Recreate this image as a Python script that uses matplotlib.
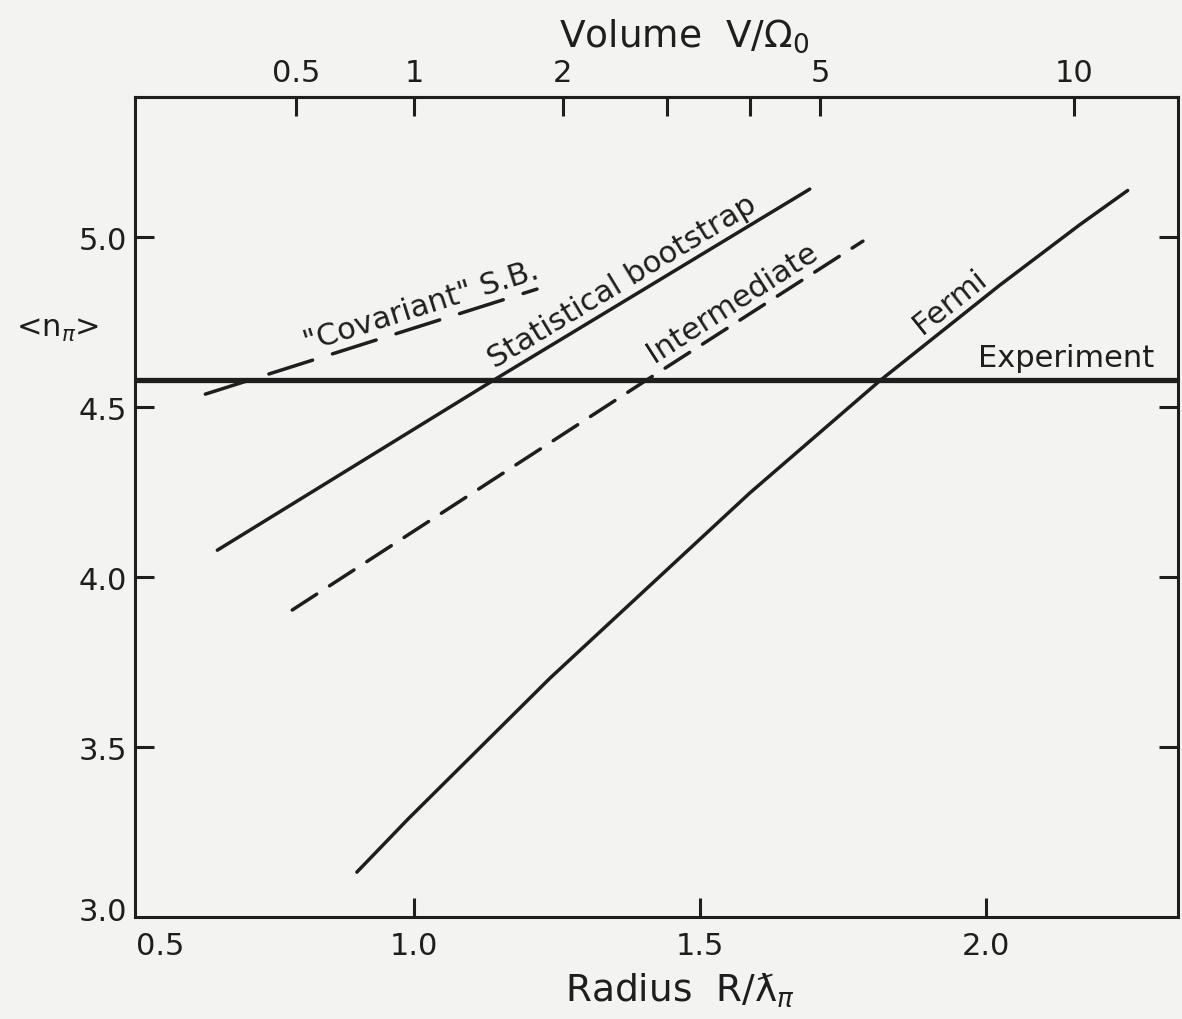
import numpy as np
import matplotlib
matplotlib.use('Agg')
import matplotlib.pyplot as plt

# values: radius R/lambda_pi  ->  <n_pi>
fermi_r = [0.900, 0.990, 1.238, 1.587, 1.815, 2.024, 2.164, 2.248]
fermi_n = [3.132, 3.289, 3.703, 4.247, 4.578, 4.858, 5.036, 5.137]

stat_r = [0.656, 1.142, 1.692]
stat_n = [4.079, 4.582, 5.141]

inter_r = [0.787, 1.409, 1.785]
inter_n = [3.903, 4.582, 4.988]

cov_r = [0.635, 1.215]
cov_n = [4.538, 4.847]

experiment_n = 4.58

x_ticks = [1.0, 1.5, 2.0]
x_labels = ['1.0', '1.5', '2.0']
y_ticks = [3.5, 4.0, 4.5, 5.0]
y_labels = ['3.5', '4.0', '4.5', '5.0']
vol_ticks = [0.5, 1, 2, 3, 4, 5, 10]
vol_labels = ['0.5', '1', '2', '', '', '5', '10']

ink = '#1e1e1e'
paper = '#f3f3f1'
plt.rcParams['font.family'] = ['DejaVu Sans']
plt.rcParams['lines.scale_dashes'] = False

fig = plt.figure(figsize=(11.82, 10.20), dpi=100, facecolor=paper)
ax = fig.add_axes([135 / 1182, 1 - 918 / 1020, (1178 - 135) / 1182, (918 - 98) / 1020])
ax.set_facecolor(paper)
ax.set_xlim(0.512, 2.336)
ax.set_ylim(3.0, 5.412)

solid = dict(color=ink, lw=2.5, solid_capstyle='round', solid_joinstyle='round')
dashed = dict(color=ink, lw=2.5, dash_capstyle='round')

ax.plot(fermi_r, fermi_n, **solid)
ax.plot(stat_r, stat_n, **solid)
ax.plot(inter_r, inter_n, dashes=(21, 11), **dashed)
ax.plot(cov_r, cov_n, dashes=(33, 15), **dashed)
ax.axhline(experiment_n, color=ink, lw=3.8)


def local_angle(rs, ns, x):
    i = int(np.clip(np.searchsorted(rs, x), 1, len(rs) - 1))
    return np.degrees(np.arctan2(ns[i] - ns[i - 1], rs[i] - rs[i - 1]))


lab = dict(fontsize=22, color=ink, ha='center', va='center',
           transform_rotates_text=True, rotation_mode='anchor')
ax.text(1.012, 4.797, '"Covariant" S.B.', rotation=local_angle(cov_r, cov_n, 1.0), **lab)
ax.text(1.364, 4.871, 'Statistical bootstrap', rotation=local_angle(stat_r, stat_n, 1.36), **lab)
ax.text(1.556, 4.809, 'Intermediate', rotation=local_angle(inter_r, inter_n, 1.55), **lab)
ax.text(1.937, 4.812, 'Fermi', rotation=local_angle(fermi_r, fermi_n, 1.94), **lab)
ax.text(2.295, experiment_n + 0.04, 'Experiment', fontsize=22, color=ink,
        ha='right', va='baseline')

# axes frame and ticks
for s in ax.spines.values():
    s.set_linewidth(2.2)
    s.set_color(ink)
ax.set_xticks(x_ticks, x_labels)
ax.set_yticks(y_ticks, y_labels)
ax.tick_params(axis='both', direction='in', length=14, width=2.2, color=ink,
               labelsize=22, labelcolor=ink, right=True, top=False)
ax.tick_params(axis='x', pad=10)
ax.tick_params(axis='y', pad=6)
ax.annotate('0.5', xy=(0, 0), xycoords='axes fraction', xytext=(18, -10),
            textcoords='offset points', ha='center', va='top', fontsize=22, color=ink)
ax.annotate('3.0', xy=(0, 0), xycoords='axes fraction', xytext=(-6, 4),
            textcoords='offset points', ha='right', va='center', fontsize=22, color=ink)

top = ax.secondary_xaxis('top', functions=(lambda r: r ** 3, lambda v: np.cbrt(v)))
top.set_xticks(vol_ticks, vol_labels)
top.tick_params(direction='in', length=14, width=2.2, color=ink, labelsize=22,
                labelcolor=ink, pad=7)
top.spines['top'].set_linewidth(2.2)
top.spines['top'].set_color(ink)

fig.text(684 / 1182, 1 - 36 / 1020, r'Volume  V/$\Omega_0$', fontsize=27, color=ink,
         ha='center', va='center')
fig.text(680 / 1182, 1 - 990 / 1020, r'Radius  R/ƛ$_\pi$', fontsize=27, color=ink,
         ha='center', va='center')
fig.text(58 / 1182, 1 - 330 / 1020, r'<n$_\pi$>', fontsize=22, color=ink,
         ha='center', va='center')

fig.savefig('out.png', dpi=100, facecolor=paper)
